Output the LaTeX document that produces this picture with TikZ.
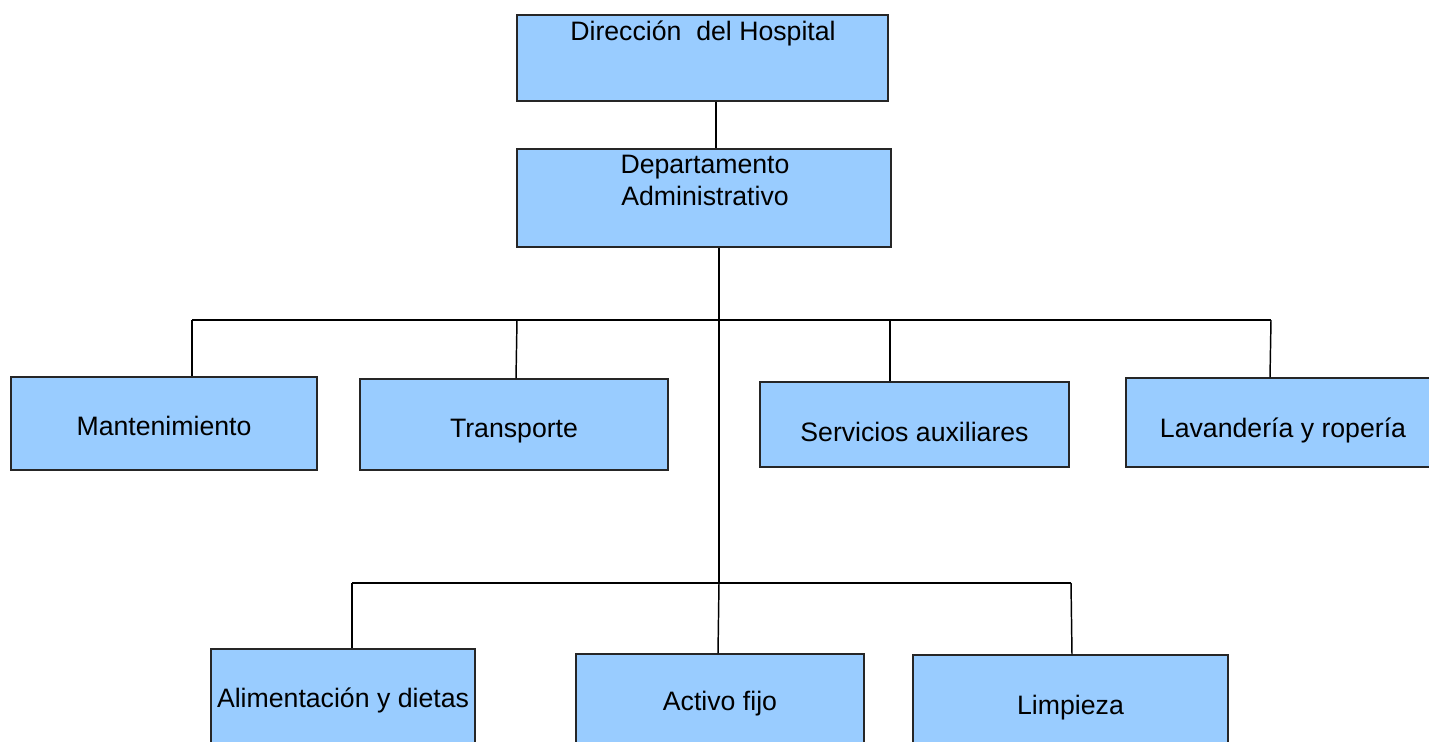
\documentclass[tikz,border=0pt]{standalone}
\usepackage{fontspec}
\setmainfont{Liberation Sans}
\usetikzlibrary{fit}
\definecolor{boxblue}{HTML}{99CCFF}
\tikzset{
  box/.style={draw=black!85, fill=boxblue, line width=0.8pt, inner sep=0pt, rectangle},
  lbl/.style={anchor=base, inner sep=0pt, font=\fontsize{20}{24}\selectfont, align=center},
  conn/.style={line width=1.1pt, black},
}
\begin{document}
\begin{tikzpicture}[x=0.75pt,y=-0.75pt]
\useasboundingbox (0,0) rectangle (1429,742);
\clip (0,0) rectangle (1429,742);
% boxes
\node[box, fit={(517,15) (888,101)}] (dir) {};
\node[box, fit={(517,149) (891,247)}] (dep) {};
\node[box, fit={(11,377) (317,470)}] (man) {};
\node[box, fit={(360,379) (668,470)}] (tra) {};
\node[box, fit={(760,382) (1069,467)}] (ser) {};
\node[box, fit={(1126,378) (1440,467)}] (lav) {};
\node[box, fit={(211,649) (475,760)}] (ali) {};
\node[box, fit={(576,654) (864,760)}] (act) {};
\node[box, fit={(913,655) (1228,760)}] (lim) {};
% labels
\node[lbl] (tdir) at (703,41) {Dirección\ \ del Hospital};
\node[lbl] (tdep1) at (705,173) {Departamento};
\node[lbl] (tdep2) at (705,205) {Administrativo};
\node[lbl] (tman) at (164,435) {Mantenimiento};
\node[lbl] (ttra) at (514,437) {Transporte};
\node[lbl] (tser) at (914.5,441) {Servicios auxiliares};
\node[lbl] (tlav) at (1283,437) {Lavandería y ropería};
\node[lbl] (tali) at (343,707) {Alimentación y dietas};
\node[lbl] (tact) at (720,710) {Activo fijo};
\node[lbl] (tlim) at (1070.5,714) {Limpieza};
% junction coordinates
\coordinate (j1) at (719,320);
\coordinate (j2) at (719,583);
\coordinate (hl) at (192,320);
\coordinate (hr) at (1271,320);
\coordinate (ll) at (352,583);
\coordinate (lr) at (1071,583);
% connectors
\draw[conn] (dir.south -| 716,0) -- (dep.north -| 716,0);
\draw[conn] (dep.south -| 719,0) -- (j2);
\draw[conn] (hl) -- (hr);
\draw[conn] (hl) -- (man.north -| hl);
\draw[conn] (517,320) -- (tra.north -| 516,0);
\draw[conn] (890,320) -- (ser.north -| 890,0);
\draw[conn] (hr) -- (lav.north -| 1270,0);
\draw[conn] (ll) -- (lr);
\draw[conn] (ll) -- (ali.north -| ll);
\draw[conn] (j2) -- (act.north -| 718,0);
\draw[conn] (lr) -- (lim.north -| 1072,0);
\end{tikzpicture}
\end{document}
